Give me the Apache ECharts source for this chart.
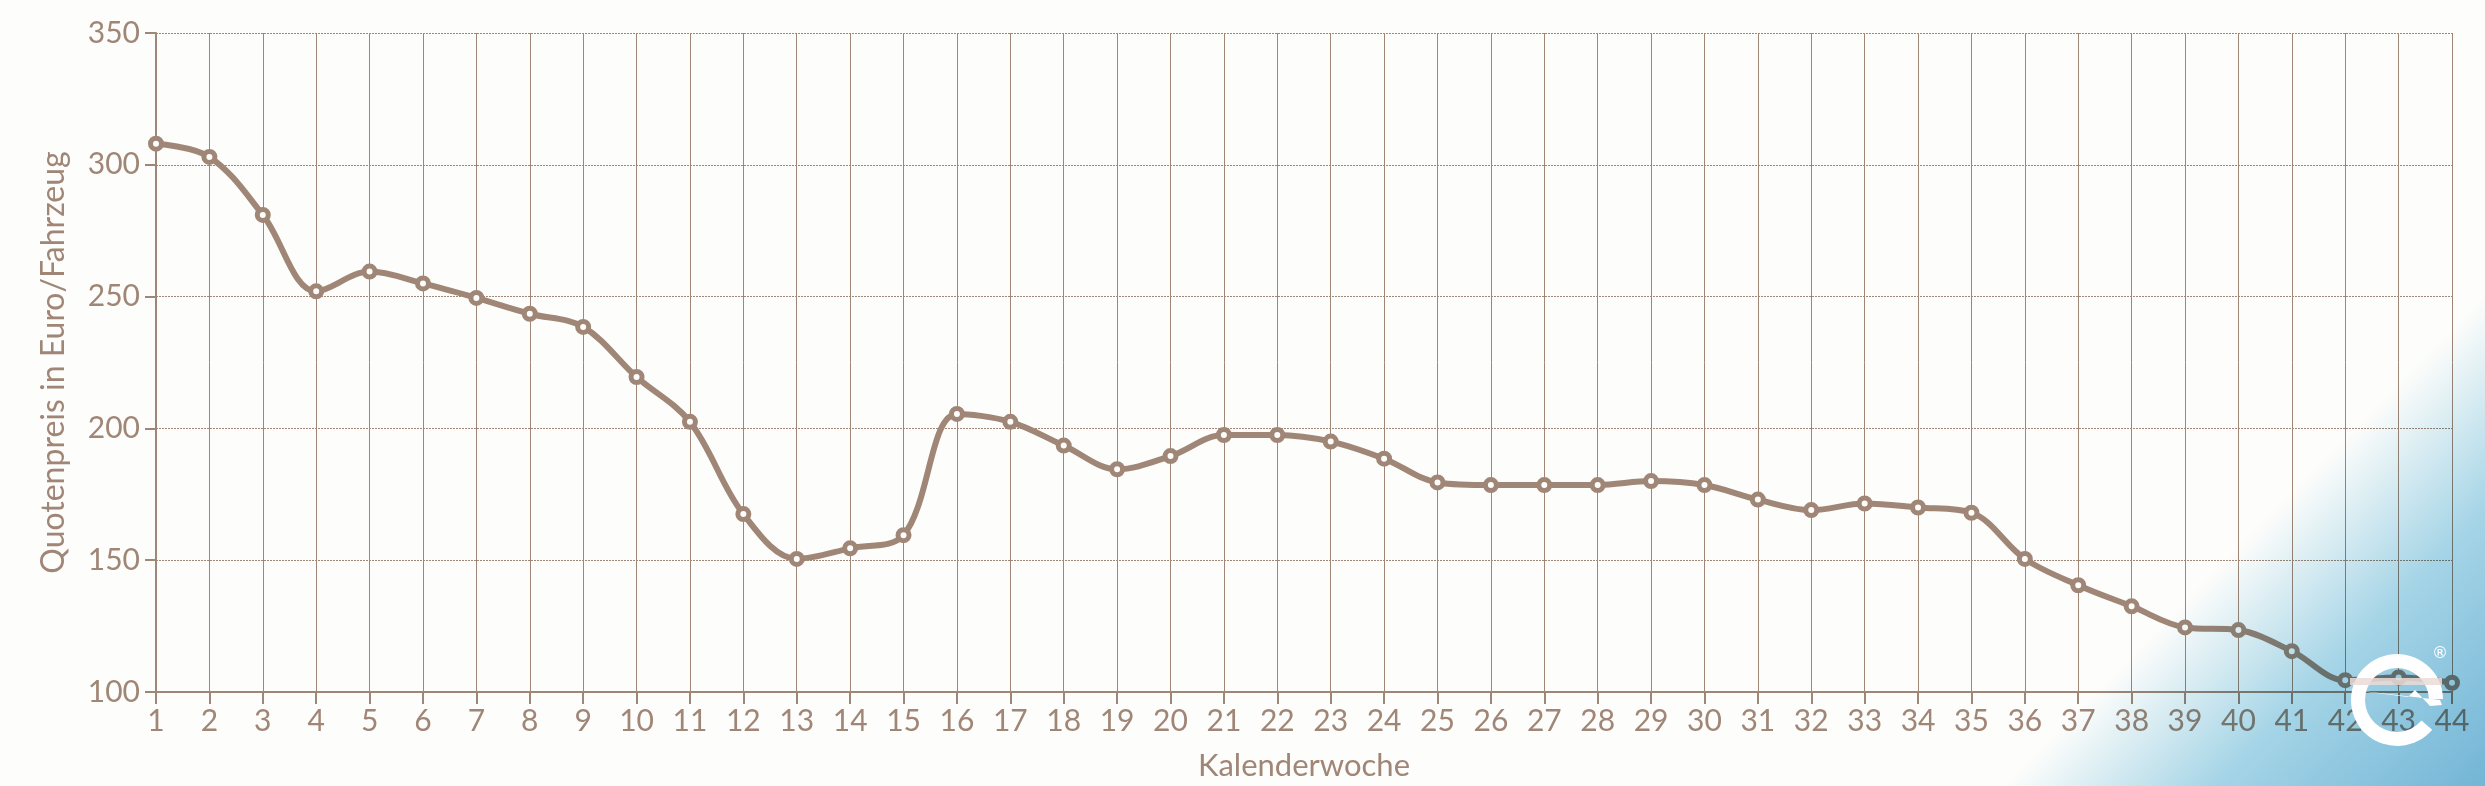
<!DOCTYPE html>
<html>
<head>
<meta charset="utf-8">
<script src="https://cdn.jsdelivr.net/npm/echarts@6/dist/echarts.min.js"></script>
<style>
html,body{margin:0;padding:0;background:#fdfdfb;}
#c{width:2485px;height:786px;}
</style>
</head>
<body>
<div id="c"></div>
<script>
const weeks = ['1','2','3','4','5','6','7','8','9','10','11','12','13','14','15','16','17','18','19','20','21','22','23','24','25','26','27','28','29','30','31','32','33','34','35','36','37','38','39','40','41','42','43','44'];
const prices = [308,303,281,252,259.5,255,249.5,243.5,238.5,219.5,202.5,167.5,150.5,154.5,159.5,205.5,202.5,193.5,184.5,189.5,197.5,197.5,195,188.5,179.5,178.5,178.5,178.5,180,178.5,173,169,171.5,170,168,150.5,140.5,132.5,124.5,123.5,115.5,104.5,105.5,103.5];
const yTicks = [100,150,200,250,300,350];
const xName = 'Kalenderwoche';
const yName = 'Quotenpreis in Euro/Fahrzeug';

const C = '#a08676';
const chart = echarts.init(document.getElementById('c'), null, {renderer:'canvas'});
chart.setOption({
  backgroundColor: '#fdfdfb',
  animation: false,
  grid: {left: 156, right: 33, top: 33, bottom: 93, containLabel: false},
  xAxis: {
    type: 'category', data: weeks, boundaryGap: false,
    name: xName, nameLocation: 'middle', nameGap: 58,
    nameTextStyle: {color: C, fontFamily: 'Lato', fontSize: 31},
    axisLine: {lineStyle: {color: C, width: 2}},
    axisTick: {show: true, length: 12, lineStyle: {color: C, width: 2}},
    axisLabel: {color: C, fontFamily: 'Lato', fontSize: 30, margin: 14, interval: 0},
    splitLine: {show: true, lineStyle: {color: C, width: 1, type: 'solid'}}
  },
  yAxis: {
    type: 'value', min: yTicks[0], max: yTicks[yTicks.length-1], interval: 50,
    name: yName, nameLocation: 'middle', nameGap: 86,
    nameTextStyle: {color: C, fontFamily: 'Lato', fontSize: 32},
    axisLine: {show: true, lineStyle: {color: C, width: 2}},
    axisTick: {show: true, length: 11, lineStyle: {color: C, width: 2}},
    axisLabel: {color: C, fontFamily: 'Lato', fontSize: 30, margin: 16},
    splitLine: {show: true, lineStyle: {color: C, width: 1, type: [2, 1]}}
  },
  series: [{
    type: 'line', data: prices, smooth: 0.35,
    symbol: 'circle', symbolSize: 11,
    lineStyle: {color: C, width: 6},
    itemStyle: {color: '#fdfdfb', borderColor: C, borderWidth: 5}
  }],
  graphic: [
    {
      type: 'rect', z: 100, silent: true,
      shape: {x: 1600, y: 250, width: 885, height: 536},
      style: {
        blend: 'multiply',
        fill: new echarts.graphic.LinearGradient(2230, 555, 2470, 790, [
          {offset: 0, color: '#ffffff'},
          {offset: 0.45, color: '#a6d6ea'},
          {offset: 1, color: '#76b8da'}
        ], true)
      }
    },
    {
      type: 'sector', z: 110, silent: true,
      shape: {cx: 2397, cy: 700, r0: 32, r: 46, startAngle: 0.7, endAngle: Math.PI * 2 - 0.02, clockwise: true},
      style: {fill: '#ffffff'}
    },
    {
      type: 'rect', z: 111, silent: true,
      shape: {x: 2350, y: 678, width: 92, height: 7},
      style: {fill: 'rgba(235,220,215,0.85)'}
    },
    {
      type: 'polygon', z: 112, silent: true,
      shape: {points: [[2336, 688], [2440, 700], [2442, 705], [2430, 706], [2415, 690], [2408, 697]]},
      style: {fill: '#ffffff'}
    },
    {
      type: 'text', z: 112, silent: true,
      style: {text: '®', x: 2440, y: 654, fill: '#ffffff', fontSize: 16, fontFamily: 'DejaVu Sans', align: 'center', verticalAlign: 'middle'}
    }
  ]
});
</script>
</body>
</html>
